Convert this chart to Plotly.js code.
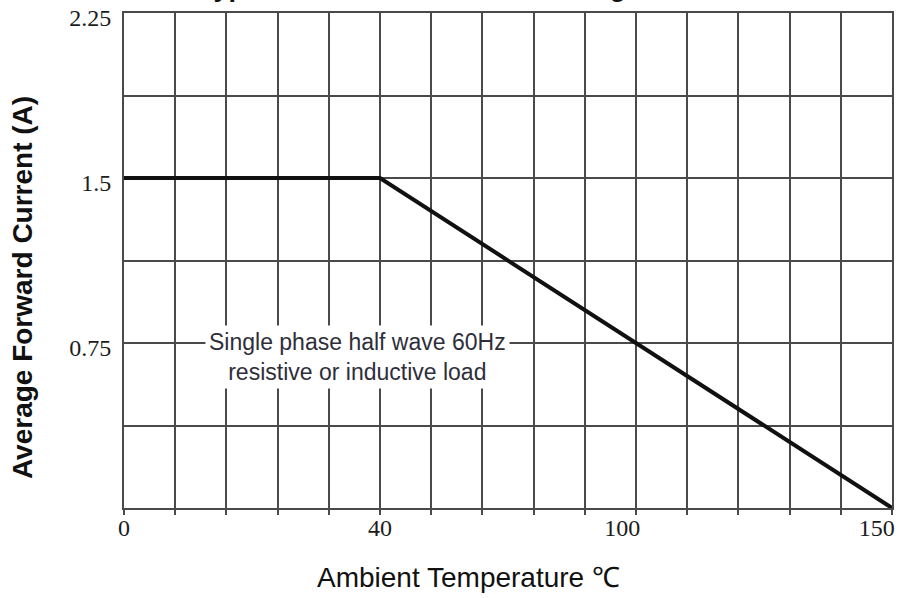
<!DOCTYPE html>
<html>
<head>
<meta charset="utf-8">
<script src="https://cdn.plot.ly/plotly-3.0.1.min.js"></script>
<style>html,body{margin:0;padding:0;background:#fff;}#chart{width:901px;height:598px;}</style>
</head>
<body>
<div id="chart"></div>
<script>
// Axis position units: one grid cell = 10 units, 15 cells across (0..150)
const curveX = [0, 50, 150];          // knee at the 5th grid line, end at the right border
const curveY = [1.5, 1.5, 0];         // Average forward current (A)
const xTickPos = [0, 50, 97.3, 147];  // where the printed temperature labels sit
const xTickText = ['0', '40', '100', '150'];
const yTickVals = [0.75, 1.5, 2.25];
const yTickText = ['0.75', '1.5', '2.25'];
const titleText = 'Typical Forward Current Derating Curve';
const noteText = 'Single phase half wave 60Hz<br>resistive or inductive load';
const xTitle = 'Ambient Temperature ℃';
const yTitle = 'Average Forward Current (A)';

const gridCol = '#4a4a4a';
const tickFont = {family: 'Liberation Serif, Times New Roman, serif', size: 24, color: '#1c1c1c'};

const data = [{
  x: curveX, y: curveY, type: 'scatter', mode: 'lines',
  line: {color: '#111111', width: 4}, hoverinfo: 'skip', showlegend: false,
  cliponaxis: false
}];

const layout = {
  width: 901, height: 598,
  margin: {l: 124, r: 9, t: 13, b: 90, pad: 0},
  paper_bgcolor: '#ffffff', plot_bgcolor: '#ffffff',
  showlegend: false,
  xaxis: {
    range: [0, 150], fixedrange: true, zeroline: false,
    tickmode: 'array', tickvals: xTickPos, ticktext: xTickText,
    showgrid: false, ticks: '', ticklabelstandoff: -3,
    tickfont: tickFont,
    showline: true, mirror: true, linecolor: gridCol, linewidth: 2,
    minor: {tickmode: 'linear', tick0: 0, dtick: 10, showgrid: true, gridcolor: gridCol, gridwidth: 2,
            ticks: 'outside', ticklen: 5, tickcolor: gridCol, tickwidth: 2}
  },
  yaxis: {
    range: [0, 2.2501], fixedrange: true, zeroline: false,
    tickmode: 'array', tickvals: yTickVals, ticktext: yTickText,
    showgrid: true, gridcolor: gridCol, gridwidth: 2, ticks: '', ticklabelstandoff: 6,
    ticklabelshift: 5,
    tickfont: tickFont,
    showline: true, mirror: true, linecolor: gridCol, linewidth: 2,
    minor: {tickmode: 'linear', tick0: 0, dtick: 0.375, showgrid: true, gridcolor: gridCol, gridwidth: 2}
  },
  annotations: [
    {text: noteText, xref: 'x', yref: 'y', x: 45.7, y: 0.685, xanchor: 'center', yanchor: 'middle',
     showarrow: false, align: 'center', bgcolor: '#ffffff', borderpad: 3,
     font: {family: 'Liberation Sans, Arial, sans-serif', size: 23, color: '#2e2e3a'}},
    {text: xTitle, xref: 'paper', yref: 'paper', x: 0.449, y: -0.14, xanchor: 'center', yanchor: 'middle',
     showarrow: false, font: {family: 'Liberation Sans, Arial, sans-serif', size: 28, color: '#111111'}},
    {text: '<b>' + yTitle + '</b>', xref: 'paper', yref: 'paper', x: -0.133, y: 0.446, xanchor: 'center', yanchor: 'middle',
     textangle: -90, showarrow: false, font: {family: 'Liberation Sans, Arial, sans-serif', size: 28, color: '#111111'}},
    {text: '<b>' + titleText + '</b>', xref: 'paper', yref: 'paper', x: 0.43, y: 1.019, xanchor: 'center', yanchor: 'bottom',
     showarrow: false, font: {family: 'Liberation Sans, Arial, sans-serif', size: 27, color: '#111111'}}
  ]
};

Plotly.newPlot('chart', data, layout, {displayModeBar: false, staticPlot: true});
</script>
</body>
</html>
